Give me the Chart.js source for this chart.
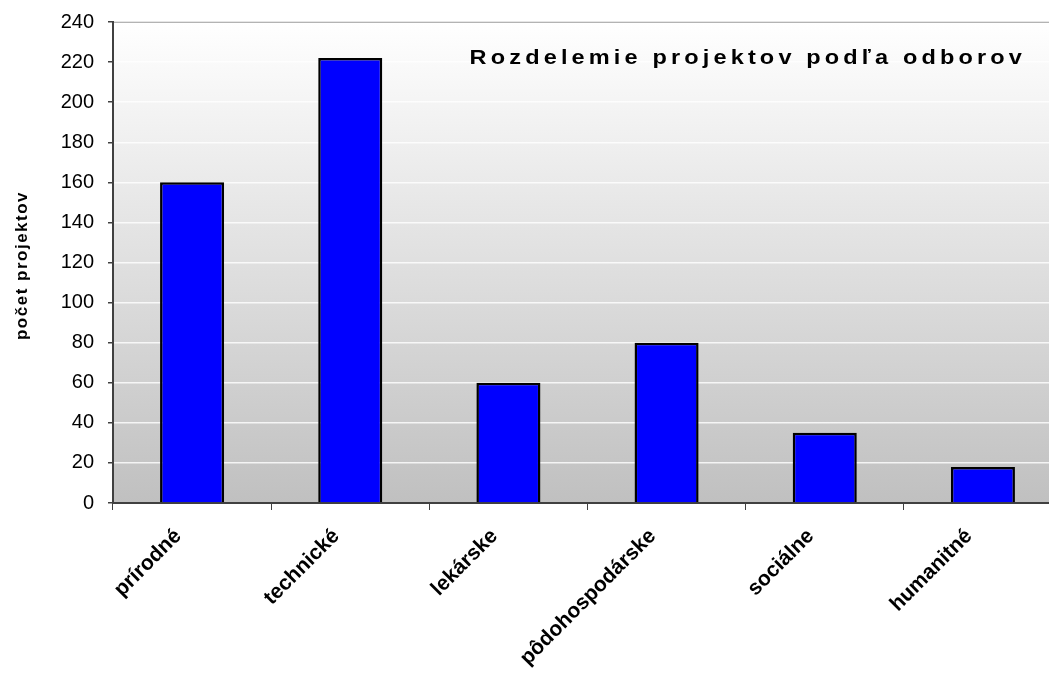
<!DOCTYPE html>
<html lang="sk">
  <head>
    <meta charset="UTF-8" />
    <title>Rozdelemie projektov podľa odborov</title>
    <script src="https://cdn.jsdelivr.net/npm/chart.js"></script>
    <style>
      body {
        margin: 0;
        background: #fff;
      }
      .wrap {
        width: 1049px;
        height: 676px;
        overflow: hidden;
      }
      .box {
        width: 1080px;
        height: 676px;
      }
    </style>
  </head>
  <body>
    <div class="wrap">
      <div class="box">
        <canvas id="chart"></canvas>
      </div>
    </div>

    <script>
      var categories = ["prírodné", "technické", "lekárske", "pôdohospodárske", "sociálne", "humanitné"];
      var projects = [160, 222, 60, 80, 35, 18];
      var chartTitle = "Rozdelemie projektov podľa odborov";
      var yTitle = "počet projektov";

      // gradient behind the plot, grey frame line on top, spaced-out titles
      var plotDecor = {
        id: "plotDecor",
        beforeDraw: function (chart) {
          var ctx = chart.ctx;
          var a = chart.chartArea;
          var g = ctx.createLinearGradient(0, a.top, 0, a.bottom);
          g.addColorStop(0, "#ffffff");
          g.addColorStop(1, "#c0c0c0");
          ctx.save();
          ctx.fillStyle = g;
          ctx.fillRect(a.left, a.top, a.right - a.left, a.bottom - a.top);
          ctx.strokeStyle = "#808080";
          ctx.lineWidth = 2;
          ctx.beginPath();
          ctx.moveTo(a.left, a.top);
          ctx.lineTo(a.right, a.top);
          ctx.stroke();
          ctx.restore();
        },
        afterDraw: function (chart) {
          var ctx = chart.ctx;
          var a = chart.chartArea;
          ctx.save();
          ctx.fillStyle = "#000";
          ctx.font = "bold 21px 'Liberation Sans', Arial, sans-serif";
          ctx.letterSpacing = "3.7px";
          ctx.textAlign = "right";
          ctx.textBaseline = "alphabetic";
          ctx.translate(1026, 64);
          ctx.scale(1.12, 1);
          ctx.fillText(chartTitle, 0, 0);
          ctx.restore();

          ctx.save();
          ctx.fillStyle = "#000";
          ctx.font = "bold 17px 'Liberation Sans', Arial, sans-serif";
          ctx.letterSpacing = "1.5px";
          ctx.textAlign = "center";
          ctx.textBaseline = "middle";
          ctx.translate(22, (a.top + a.bottom) / 2 + 3);
          ctx.rotate(-Math.PI / 2);
          ctx.fillText(yTitle, 0, 0);
          ctx.restore();
        },
      };

      var ctx = document.getElementById("chart").getContext("2d");

      var chart = new Chart(ctx, {
        type: "bar",
        data: {
          labels: categories,
          datasets: [
            {
              label: yTitle,
              data: projects,
              backgroundColor: "#0000ff",
              borderColor: "#000000",
              borderWidth: 2.5,
              categoryPercentage: 1,
              barPercentage: 0.405,
            },
          ],
        },
        options: {
          responsive: true,
          maintainAspectRatio: false,
          animation: false,
          layout: {
            padding: { top: 22, right: 18, left: 6, bottom: 0 },
          },
          plugins: {
            legend: { display: false },
            tooltip: { enabled: false },
          },
          scales: {
            x: {
              grid: {
                display: true,
                drawOnChartArea: false,
                tickLength: 7,
                tickColor: "#404040",
              },
              border: { color: "#404040", width: 2 },
              ticks: {
                autoSkip: false,
                minRotation: 45,
                maxRotation: 45,
                padding: 14,
                labelOffset: -14,
                color: "#000",
                font: { family: "'Liberation Sans', Arial", size: 21, weight: "bold" },
              },
              afterFit: function (scale) {
                scale.height = 173;
              },
            },
            y: {
              min: 0,
              max: 240,
              ticks: {
                stepSize: 20,
                color: "#000",
                padding: 14,
                font: { family: "'Liberation Sans', Arial", size: 20 },
              },
              grid: {
                color: "rgba(255,255,255,0.8)",
                lineWidth: 1.5,
                tickLength: 5,
                tickColor: "#404040",
              },
              border: { color: "#404040", width: 2 },
              afterFit: function (scale) {
                scale.width = 107;
                scale.paddingTop = 0;
                scale.paddingBottom = 0;
              },
            },
          },
        },
        plugins: [plotDecor],
      });
    </script>
  </body>
</html>
